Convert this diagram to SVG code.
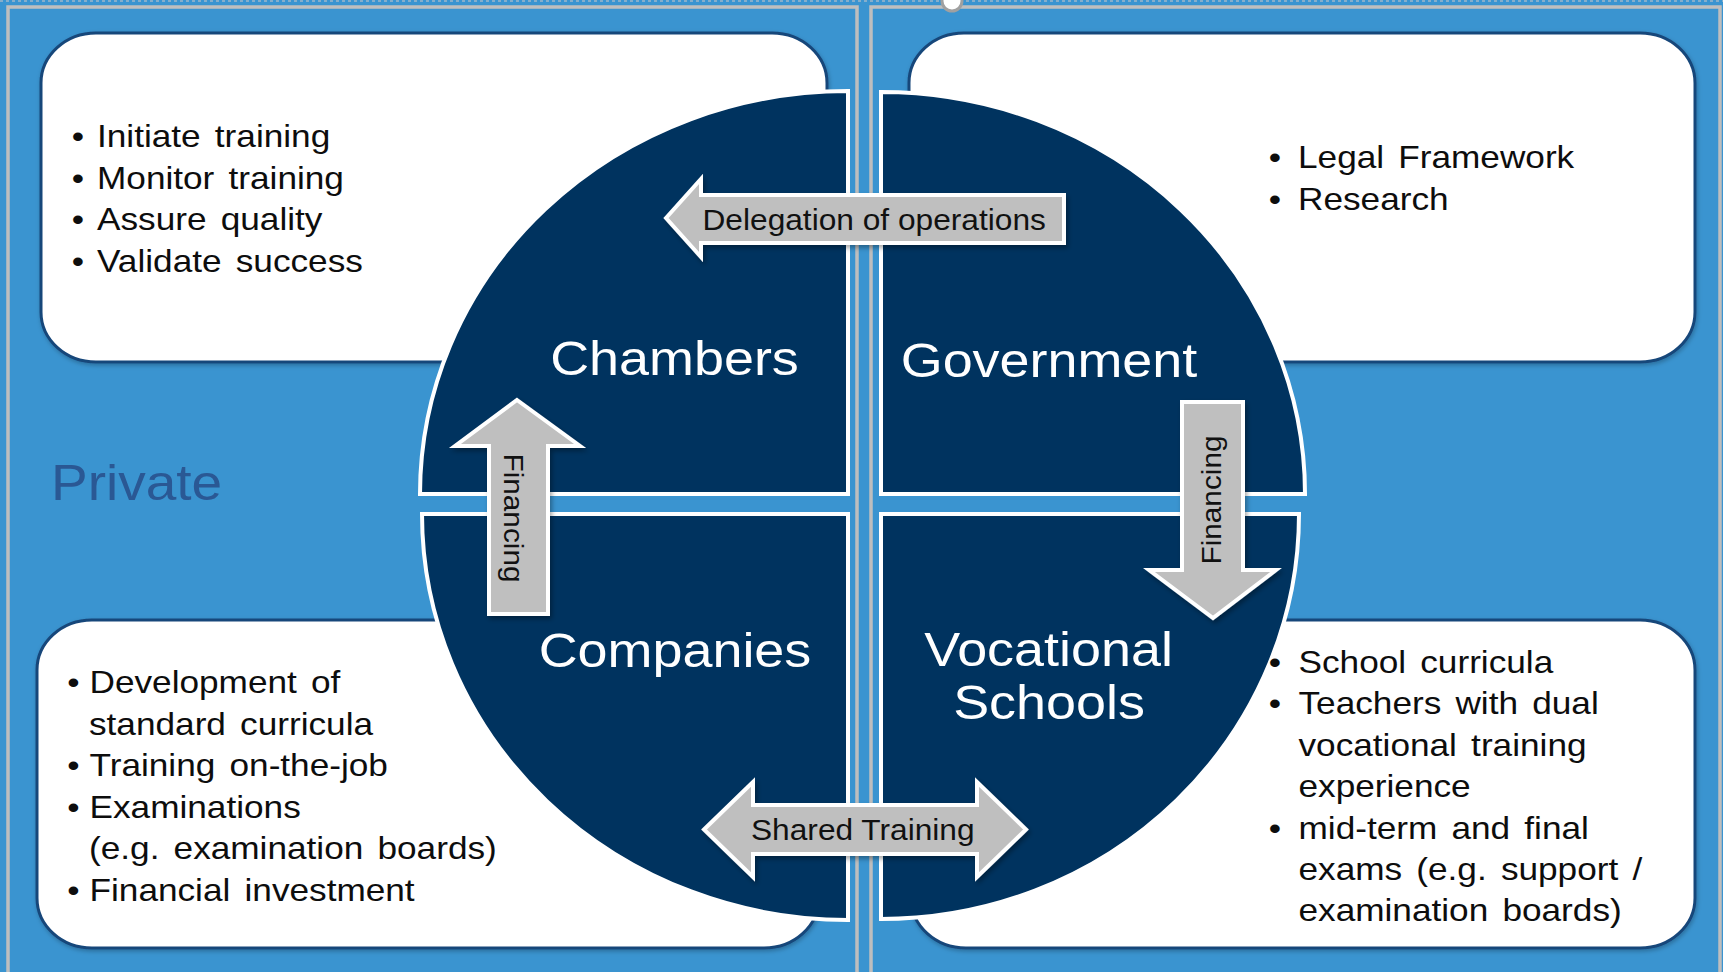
<svg xmlns="http://www.w3.org/2000/svg" width="1723" height="972" viewBox="0 0 1723 972">
  <defs>
    <style>
      .bg { fill: #3A94D0; }
      .panel { fill: none; stroke: #BEBEBE; stroke-width: 3.5; }
      .box { fill: #FFFFFF; stroke: #17467A; stroke-width: 3; }
      .quad { fill: #00335F; stroke: #FFFFFF; stroke-width: 4; stroke-linejoin: miter; }
      .arrow { fill: #BFBFBF; stroke: #FFFFFF; stroke-width: 4; stroke-linejoin: miter; }
      .txt { font-family: "Liberation Sans", Arial, sans-serif; fill: #0D0D0D; word-spacing: 4px; }
      .bul { font-size: 32px; }
      .title { font-family: "Liberation Sans", Arial, sans-serif; font-size: 49px; fill: #FFFFFF; text-anchor: middle; }
      .lbl { font-family: "Liberation Sans", Arial, sans-serif; font-size: 28.8px; fill: #111111; }
      .vlbl { font-family: "Liberation Sans", Arial, sans-serif; font-size: 27px; fill: #111111; text-anchor: middle; }
      .private { font-family: "Liberation Sans", Arial, sans-serif; font-size: 50px; fill: #2A5894; }
    </style>
    <filter id="sh" x="-10%" y="-10%" width="130%" height="140%">
      <feDropShadow dx="2" dy="3" stdDeviation="2.5" flood-color="#000000" flood-opacity="0.35"/>
    </filter>
    <filter id="shb" x="-5%" y="-5%" width="110%" height="115%">
      <feDropShadow dx="1" dy="2" stdDeviation="2" flood-color="#000000" flood-opacity="0.25"/>
    </filter>
  </defs>

  <!-- background -->
  <rect class="bg" x="0" y="0" width="1723" height="972"/>
  <line x1="0" y1="1" x2="1723" y2="1" stroke="#9FB7C9" stroke-width="1.5" stroke-dasharray="3 3"/>

  <!-- panels -->
  <g id="panels">
    <rect class="panel" x="8" y="7" width="849" height="990"/>
    <rect class="panel" x="871" y="7" width="849" height="990"/>
  </g>
  <circle cx="952" cy="1" r="10" fill="#FFFFFF" stroke="#A0A0A0" stroke-width="3"/>

  <!-- white boxes -->
  <g id="box-chambers"><rect class="box" filter="url(#shb)" x="41" y="33" width="786" height="329" rx="55" ry="50"/></g>
  <g id="box-government"><rect class="box" filter="url(#shb)" x="909" y="33" width="786" height="329" rx="55" ry="50"/></g>
  <g id="box-companies"><rect class="box" filter="url(#shb)" x="37" y="620" width="782" height="328" rx="55" ry="50"/></g>
  <g id="box-schools"><rect class="box" filter="url(#shb)" x="911" y="620" width="784" height="328" rx="55" ry="50"/></g>

  <!-- quadrants -->
  <g id="node-chambers">
    <path class="quad" d="M848,494 L848,91 A428,403 0 0 0 420,494 Z"/>
    <text class="title" transform="matrix(1.1 0 0 1 674.5 375)">Chambers</text>
  </g>
  <g id="node-government">
    <path class="quad" d="M881,494 L881,92 A424,402 0 0 1 1305,494 Z"/>
    <text class="title" transform="matrix(1.1 0 0 1 1049 377)">Government</text>
  </g>
  <g id="node-companies">
    <path class="quad" d="M848,514 L422,514 A426,406 0 0 0 848,920 Z"/>
    <text class="title" transform="matrix(1.1 0 0 1 675 667)">Companies</text>
  </g>
  <g id="node-schools">
    <path class="quad" d="M881,514 L1299,514 A418,405 0 0 1 881,919 Z"/>
    <text class="title" transform="matrix(1.1 0 0 1 1048.5 666)">Vocational</text>
    <text class="title" transform="matrix(1.1 0 0 1 1049 719)">Schools</text>
  </g>

  <!-- private label -->
  <g id="label-private">
    <text class="private" transform="matrix(1.1 0 0 1 51 500)">Private</text>
  </g>

  <!-- box texts -->
  <g id="text-chambers" class="txt bul">
    <text transform="matrix(1.1 0 0 1 78 147)" text-anchor="middle">•</text>
    <text transform="matrix(1.1 0 0 1 97 147)">Initiate training</text>
    <text transform="matrix(1.1 0 0 1 78 188.5)" text-anchor="middle">•</text>
    <text transform="matrix(1.1 0 0 1 97 188.5)">Monitor training</text>
    <text transform="matrix(1.1 0 0 1 78 230)" text-anchor="middle">•</text>
    <text transform="matrix(1.1 0 0 1 97 230)">Assure quality</text>
    <text transform="matrix(1.1 0 0 1 78 271.5)" text-anchor="middle">•</text>
    <text transform="matrix(1.1 0 0 1 97 271.5)">Validate success</text>
  </g>
  <g id="text-government" class="txt bul">
    <text transform="matrix(1.1 0 0 1 1275 168)" text-anchor="middle">•</text>
    <text transform="matrix(1.1 0 0 1 1298 168)">Legal Framework</text>
    <text transform="matrix(1.1 0 0 1 1275 209.5)" text-anchor="middle">•</text>
    <text transform="matrix(1.1 0 0 1 1298 209.5)">Research</text>
  </g>
  <g id="text-companies" class="txt bul">
    <text transform="matrix(1.1 0 0 1 73.5 693)" text-anchor="middle">•</text>
    <text transform="matrix(1.1 0 0 1 89.5 693)">Development of</text>
    <text transform="matrix(1.1 0 0 1 89 734.5)">standard curricula</text>
    <text transform="matrix(1.1 0 0 1 73.5 776)" text-anchor="middle">•</text>
    <text transform="matrix(1.1 0 0 1 89.5 776)">Training on-the-job</text>
    <text transform="matrix(1.1 0 0 1 73.5 817.5)" text-anchor="middle">•</text>
    <text transform="matrix(1.1 0 0 1 89.5 817.5)">Examinations</text>
    <text transform="matrix(1.1 0 0 1 89 859)">(e.g. examination boards)</text>
    <text transform="matrix(1.1 0 0 1 73.5 900.5)" text-anchor="middle">•</text>
    <text transform="matrix(1.1 0 0 1 89.5 900.5)">Financial investment</text>
  </g>
  <g id="text-schools" class="txt bul">
    <text transform="matrix(1.1 0 0 1 1275 673)" text-anchor="middle">•</text>
    <text transform="matrix(1.1 0 0 1 1298.5 673)">School curricula</text>
    <text transform="matrix(1.1 0 0 1 1275 714.4)" text-anchor="middle">•</text>
    <text transform="matrix(1.1 0 0 1 1298.5 714.4)">Teachers with dual</text>
    <text transform="matrix(1.1 0 0 1 1298.5 755.8)">vocational training</text>
    <text transform="matrix(1.1 0 0 1 1298.5 797.2)">experience</text>
    <text transform="matrix(1.1 0 0 1 1275 838.6)" text-anchor="middle">•</text>
    <text transform="matrix(1.1 0 0 1 1298.5 838.6)">mid-term and final</text>
    <text transform="matrix(1.1 0 0 1 1298.5 880)">exams (e.g. support /</text>
    <text transform="matrix(1.1 0 0 1 1298.5 921.4)">examination boards)</text>
  </g>

  <!-- connectors -->
  <g id="connectors">
    <g id="arrow-delegation">
      <path class="arrow" filter="url(#sh)" d="M666,218 L701,179 L701,195 L1064,195 L1064,243 L701,243 L701,257 Z"/>
      <text class="lbl" transform="matrix(1.1 0 0 1 702.5 230)">Delegation of operations</text>
    </g>
    <g id="arrow-financing-left">
      <path class="arrow" filter="url(#sh)" d="M517,400 L580,446 L548,446 L548,614 L489,614 L489,446 L455,446 Z"/>
      <text class="vlbl" transform="translate(503.7 518) rotate(90)" textLength="129" lengthAdjust="spacingAndGlyphs">Financing</text>
    </g>
    <g id="arrow-financing-right">
      <path class="arrow" filter="url(#sh)" d="M1182,402 L1243,402 L1243,570 L1276,570 L1213,618 L1149,570 L1182,570 Z"/>
      <text class="vlbl" transform="translate(1220.8 500) rotate(-90)" textLength="129" lengthAdjust="spacingAndGlyphs">Financing</text>
    </g>
    <g id="arrow-shared">
      <path class="arrow" filter="url(#sh)" d="M704,829.5 L753,782 L753,805 L977,805 L977,782 L1026,829.5 L977,877 L977,854 L753,854 L753,877 Z"/>
      <text class="lbl" transform="matrix(1.1 0 0 1 751 840)">Shared Training</text>
    </g>
  </g>
</svg>
